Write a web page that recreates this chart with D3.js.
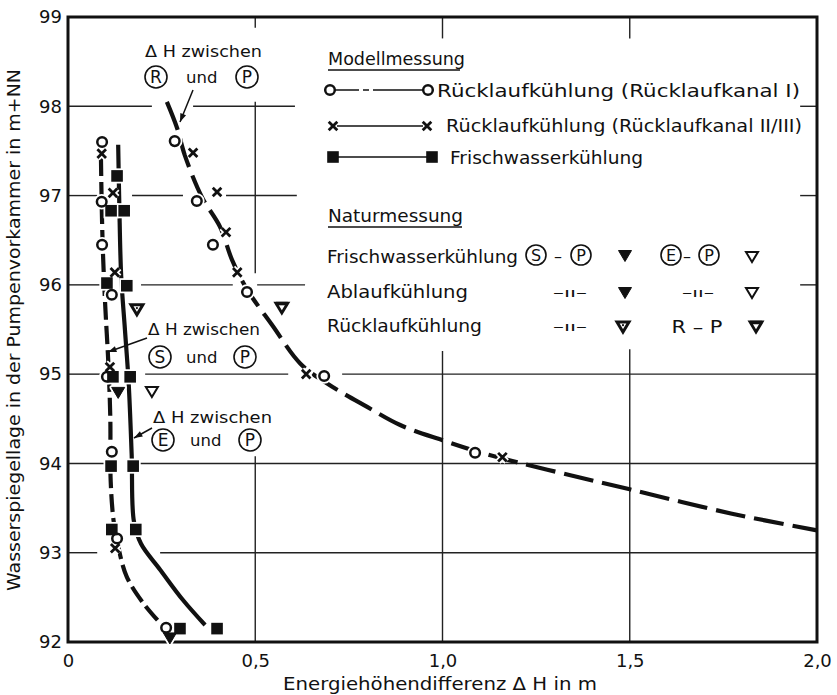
<!DOCTYPE html>
<html><head><meta charset="utf-8">
<script src="https://cdn.jsdelivr.net/npm/d3@7"></script>
<style>
body{margin:0;background:#fff}
svg{display:block}
text{font-family:"DejaVu Sans",sans-serif;fill:#111}
</style>
</head><body><svg id="c" width="837" height="695"></svg>
<script>
// ---------- data ----------
const xTicks = [0, 0.5, 1.0, 1.5, 2.0];
const yTicks = [92, 93, 94, 95, 96, 97, 98, 99];

// Modellmessung: Rücklaufkühlung (Rücklaufkanal I) – circles
const ruecklaufI = [[0.091,97.60],[0.090,96.93],[0.091,96.45],[0.117,95.89],[0.104,94.97],[0.117,94.13],[0.131,93.16],[0.262,92.16],
  [0.285,97.61],[0.344,96.94],[0.387,96.45],[0.478,95.92],[0.684,94.98],[1.087,94.12]];
// Rücklaufkühlung (Rücklaufkanal II/III) – crosses
const ruecklaufII = [[0.090,97.47],[0.120,97.03],[0.125,96.14],[0.112,95.08],[0.126,93.05],
  [0.334,97.48],[0.398,97.04],[0.422,96.59],[0.452,96.14],[0.636,95.00],[1.160,94.07]];
// Frischwasserkühlung – filled squares
const frischwasser = [[0.131,97.22],[0.115,96.83],[0.150,96.83],[0.104,96.02],[0.157,95.99],[0.120,94.97],[0.166,94.97],
  [0.115,93.97],[0.174,93.97],[0.117,93.26],[0.181,93.26],[0.299,92.15],[0.398,92.15]];
// Naturmessung
const naturFilled = [[0.134,94.79],[0.272,92.04]];          // S–P (Frischwasser / Ablauf)
const naturOpen = [[0.224,94.80]];                           // E–P
const naturRueckDot = [[0.184,95.72]];                       // Rücklaufkühlung S–P
const naturRueckRP = [[0.571,95.74]];                        // Rücklaufkühlung R–P

// curves ΔH
const curveRP = [[0.264,98.05],[0.291,97.76],[0.312,97.45],[0.358,96.98],[0.406,96.65],[0.438,96.28],[0.478,95.95],
  [0.545,95.55],[0.62,95.12],[0.69,94.90],[0.80,94.63],[0.887,94.43],[1.0,94.26],[1.12,94.10],[1.28,93.93],
  [1.5,93.71],[1.77,93.44],[2.0,93.25]];
const curveSP = [[0.088,97.42],[0.090,96.90],[0.093,96.40],[0.099,95.80],[0.108,95.10],[0.113,94.50],[0.114,93.80],
  [0.122,93.35],[0.135,93.05],[0.157,92.73],[0.200,92.44],[0.255,92.17]];
const curveEP = [[0.134,97.57],[0.137,96.90],[0.142,96.10],[0.152,95.50],[0.162,94.90],[0.170,94.10],[0.176,93.35],
  [0.195,93.10],[0.246,92.81],[0.307,92.47],[0.366,92.19]];

// ---------- layout ----------
const W = 837, H = 695;
const L = 68, R = 817, T = 17, B = 642;
const svg = d3.select("#c");
svg.append("rect").attr("width", W).attr("height", H).attr("fill", "#fff");

const x = d3.scaleLinear().domain([0, 2]).range([L, R]);
const y = d3.scaleLinear().domain([92, 99]).range([B, T]);

// grid segments (partial grid as in the original)
const hGrid = [
  [98, [[0,0.224],[0.334,0.606],[1.955,2]]],
  [97, [[0,0.078],[0.171,0.307],[0.422,0.611],[1.955,2]]],
  [96, [[0,0.085],[0.195,0.44],[0.505,0.633],[1.955,2]]],
  [95, [[0,0.085],[0.206,0.588],[0.732,2]]],
  [94, [[0,0.104],[0.19,2]]],
  [93, [[0,0.078],[0.246,2]]]
];
const vGrid = [
  [0.5, [[98.88,99],[96.13,98.05],[92,94.08]]],
  [1.0, [[98.76,99],[92,95.26]]],
  [1.5, [[98.76,99],[92,95.28]]]
];
const grid = svg.append("g").attr("stroke", "#222").attr("stroke-width", 1.4);
hGrid.forEach(([v, segs]) => segs.forEach(s => grid.append("line")
  .attr("x1", x(s[0])).attr("x2", x(s[1])).attr("y1", y(v)).attr("y2", y(v))));
vGrid.forEach(([v, segs]) => segs.forEach(s => grid.append("line")
  .attr("x1", x(v)).attr("x2", x(v)).attr("y1", y(s[0])).attr("y2", y(s[1]))));

// frame
svg.append("rect").attr("x", L).attr("y", T).attr("width", R - L).attr("height", B - T)
  .attr("fill", "none").attr("stroke", "#111").attr("stroke-width", 3);

// axes
const fmt = d => d === 0 ? "0" : d3.format(".1f")(d).replace(".", ",");
const xAxis = svg.append("g").attr("transform", `translate(0,${B})`)
  .call(d3.axisBottom(x).tickValues(xTicks).tickFormat(fmt).tickSize(0).tickPadding(12));
const yAxis = svg.append("g").attr("transform", `translate(${L},0)`)
  .call(d3.axisLeft(y).tickValues(yTicks).tickFormat(d3.format("d")).tickSize(0).tickPadding(6));
[xAxis, yAxis].forEach(a => {
  a.select(".domain").remove();
  a.selectAll("text").attr("font-family", "DejaVu Sans").attr("font-size", 18).attr("fill", "#111");
});

svg.append("text").attr("x", 440).attr("y", 690).attr("text-anchor", "middle")
  .attr("font-size", 17).attr("textLength", 314).attr("lengthAdjust", "spacingAndGlyphs")
  .text("Energiehöhendifferenz  Δ H in m");
svg.append("text").attr("transform", "translate(20,330) rotate(-90)").attr("text-anchor", "middle")
  .attr("font-size", 17).attr("textLength", 522).attr("lengthAdjust", "spacingAndGlyphs")
  .text("Wasserspiegellage in der Pumpenvorkammer in m+NN");

// curves
const line = d3.line().x(d => x(d[0])).y(d => y(d[1])).curve(d3.curveCatmullRom.alpha(0.5));
const cg = svg.append("g").attr("fill", "none").attr("stroke", "#111").attr("stroke-linecap", "butt");
cg.append("path").datum(curveRP).attr("d", line).attr("stroke-width", 4.2).attr("stroke-dasharray", "30,9");
cg.append("path").datum(curveSP).attr("d", line).attr("stroke-width", 4.2).attr("stroke-dasharray", "18,6");
cg.append("path").datum(curveEP).attr("d", line).attr("stroke-width", 4.2);

// markers
function triPath(cx, cy, w, h) {
  return `M${cx - w / 2},${cy - h / 2}L${cx + w / 2},${cy - h / 2}L${cx},${cy + h / 2}Z`;
}
function marker(g, type, cx, cy, halo) {
  const hs = halo ? 3.5 : 0;
  const col = halo ? "#fff" : "#111";
  if (type === "circle") {
    g.append("circle").attr("cx", cx).attr("cy", cy).attr("r", 4.8)
      .attr("fill", "#fff").attr("stroke", col).attr("stroke-width", 2.5 + hs);
  } else if (type === "x") {
    const s = 4.3;
    g.append("path").attr("d", `M${cx - s},${cy - s}L${cx + s},${cy + s}M${cx - s},${cy + s}L${cx + s},${cy - s}`)
      .attr("stroke", col).attr("stroke-width", 2.8 + hs).attr("fill", "none");
  } else if (type === "square") {
    g.append("rect").attr("x", cx - 5.8).attr("y", cy - 5.8).attr("width", 11.6).attr("height", 11.6)
      .attr("fill", col).attr("stroke", col).attr("stroke-width", hs);
  } else if (type === "triF") {
    g.append("path").attr("d", triPath(cx, cy, 13, 11)).attr("fill", col)
      .attr("stroke", col).attr("stroke-width", 1 + hs).attr("stroke-linejoin", "round");
  } else if (type === "triO") {
    g.append("path").attr("d", triPath(cx, cy, 12, 10)).attr("fill", "#fff")
      .attr("stroke", col).attr("stroke-width", 2 + hs).attr("stroke-linejoin", "miter");
  } else if (type === "triD") {
    g.append("path").attr("d", triPath(cx, cy, 12, 10)).attr("fill", "#fff")
      .attr("stroke", col).attr("stroke-width", 3 + hs).attr("stroke-linejoin", "miter");
    if (!halo) g.append("circle").attr("cx", cx).attr("cy", cy - 1.8).attr("r", 1.1).attr("fill", "#111");
  } else if (type === "triB") {
    g.append("path").attr("d", triPath(cx, cy, 12, 10)).attr("fill", "#fff")
      .attr("stroke", col).attr("stroke-width", 2.8 + hs).attr("stroke-linejoin", "miter");
    if (!halo) g.append("line").attr("x1", cx - 6).attr("x2", cx + 6).attr("y1", cy - 4.5).attr("y2", cy - 4.5)
      .attr("stroke", "#111").attr("stroke-width", 3.5);
  }
}
const sets = [
  [ruecklaufI, "circle"], [ruecklaufII, "x"], [frischwasser, "square"],
  [naturFilled, "triF"], [naturOpen, "triO"], [naturRueckDot, "triD"], [naturRueckRP, "triB"]
];
const mg = svg.append("g");
sets.forEach(([arr, t]) => arr.forEach(d => marker(mg, t, x(d[0]), y(d[1]), true)));
sets.forEach(([arr, t]) => arr.forEach(d => marker(mg, t, x(d[0]), y(d[1]), false)));

// ---------- annotations ----------
const ann = svg.append("g");
function circled(g, cx, cy, ch, r, fs) {
  g.append("circle").attr("cx", cx).attr("cy", cy).attr("r", r).attr("fill", "#fff")
    .attr("stroke", "#111").attr("stroke-width", 1.6);
  g.append("text").attr("x", cx).attr("y", cy + fs * 0.36).attr("text-anchor", "middle")
    .attr("font-size", fs).text(ch);
}
function arrow(x1, y1, x2, y2) {
  ann.append("line").attr("x1", x1).attr("y1", y1).attr("x2", x2).attr("y2", y2)
    .attr("stroke", "#111").attr("stroke-width", 1.5);
  const a = Math.atan2(y2 - y1, x2 - x1), len = 9, sp = 0.35;
  ann.append("path").attr("d",
    `M${x2},${y2}L${x2 - len * Math.cos(a - sp)},${y2 - len * Math.sin(a - sp)}L${x2 - len * Math.cos(a + sp)},${y2 - len * Math.sin(a + sp)}Z`)
    .attr("fill", "#111");
}
function dhLabel(tx, ty, tw, c1, c2, c1x, c2x, ux, cy) {
  ann.append("text").attr("x", tx).attr("y", ty).attr("font-size", 16.5)
    .attr("textLength", tw).attr("lengthAdjust", "spacingAndGlyphs").text("Δ H zwischen");
  circled(ann, c1x, cy, c1, 11, 17);
  ann.append("text").attr("x", ux).attr("y", cy + 6).attr("font-size", 16.5).text("und");
  circled(ann, c2x, cy, c2, 11, 17);
}
dhLabel(145, 57, 117, "R", "P", 156, 247, 186, 77);
arrow(193, 90, 180, 122);
dhLabel(148, 335, 112, "S", "P", 160, 245, 186, 357);
arrow(147, 338, 108, 352);
dhLabel(153, 423, 119, "E", "P", 163, 250, 190, 440);
arrow(152, 428, 134, 438);

// ---------- legend ----------
const lg = svg.append("g");
function ltext(tx, ty, s, w, fs) {
  const t = lg.append("text").attr("x", tx).attr("y", ty).attr("font-size", fs || 18).text(s);
  if (w) t.attr("textLength", w).attr("lengthAdjust", "spacingAndGlyphs");
  return t;
}
ltext(328, 65, "Modellmessung", 137);
lg.append("line").attr("x1", 328).attr("x2", 460).attr("y1", 70).attr("y2", 70).attr("stroke", "#111").attr("stroke-width", 1.5);
// row 1
lg.append("line").attr("x1", 335).attr("x2", 423).attr("y1", 90).attr("y2", 90)
  .attr("stroke", "#111").attr("stroke-width", 1.5).attr("stroke-dasharray", "24,4,6,4,50");
marker(lg, "circle", 330, 90, false); marker(lg, "circle", 428, 90, false);
ltext(437, 97, "Rücklaufkühlung (Rücklaufkanal I)", 363);
// row 2
lg.append("line").attr("x1", 337).attr("x2", 423).attr("y1", 126).attr("y2", 126).attr("stroke", "#111").attr("stroke-width", 1.5);
marker(lg, "x", 333, 126, false); marker(lg, "x", 427, 126, false);
ltext(446, 132, "Rücklaufkühlung (Rücklaufkanal II/III)", 356);
// row 3
lg.append("line").attr("x1", 338).attr("x2", 427).attr("y1", 157).attr("y2", 157).attr("stroke", "#111").attr("stroke-width", 1.5);
marker(lg, "square", 333, 157, false); marker(lg, "square", 432, 157, false);
ltext(450, 164, "Frischwasserkühlung", 193);

ltext(328, 222, "Naturmessung", 135);
lg.append("line").attr("x1", 328).attr("x2", 462).attr("y1", 227).attr("y2", 227).attr("stroke", "#111").attr("stroke-width", 1.5);

ltext(327, 263, "Frischwasserkühlung", 191);
circled(lg, 536, 255, "S", 10, 16); ltext(554, 262, "–", null, 16); circled(lg, 581, 255, "P", 10, 16);
marker(lg, "triF", 625, 256, false);
circled(lg, 671, 255, "E", 10, 16); ltext(683, 262, "–", null, 16); circled(lg, 709, 255, "P", 10, 16);
marker(lg, "triO", 752, 257, false);

ltext(327, 298, "Ablaufkühlung", 141);
ltext(570, 297, "–ıı–", 34, 13).attr("text-anchor", "middle");
marker(lg, "triF", 625, 293, false);
ltext(698, 297, "–ıı–", 32, 13).attr("text-anchor", "middle");
marker(lg, "triO", 752, 293, false);

ltext(327, 332, "Rücklaufkühlung", 155);
ltext(570, 331, "–ıı–", 34, 13).attr("text-anchor", "middle");
marker(lg, "triD", 623, 327, false);
ltext(697, 333, "R – P", 51, 18).attr("text-anchor", "middle");
marker(lg, "triB", 756, 327, false);
</script>
</body></html>
